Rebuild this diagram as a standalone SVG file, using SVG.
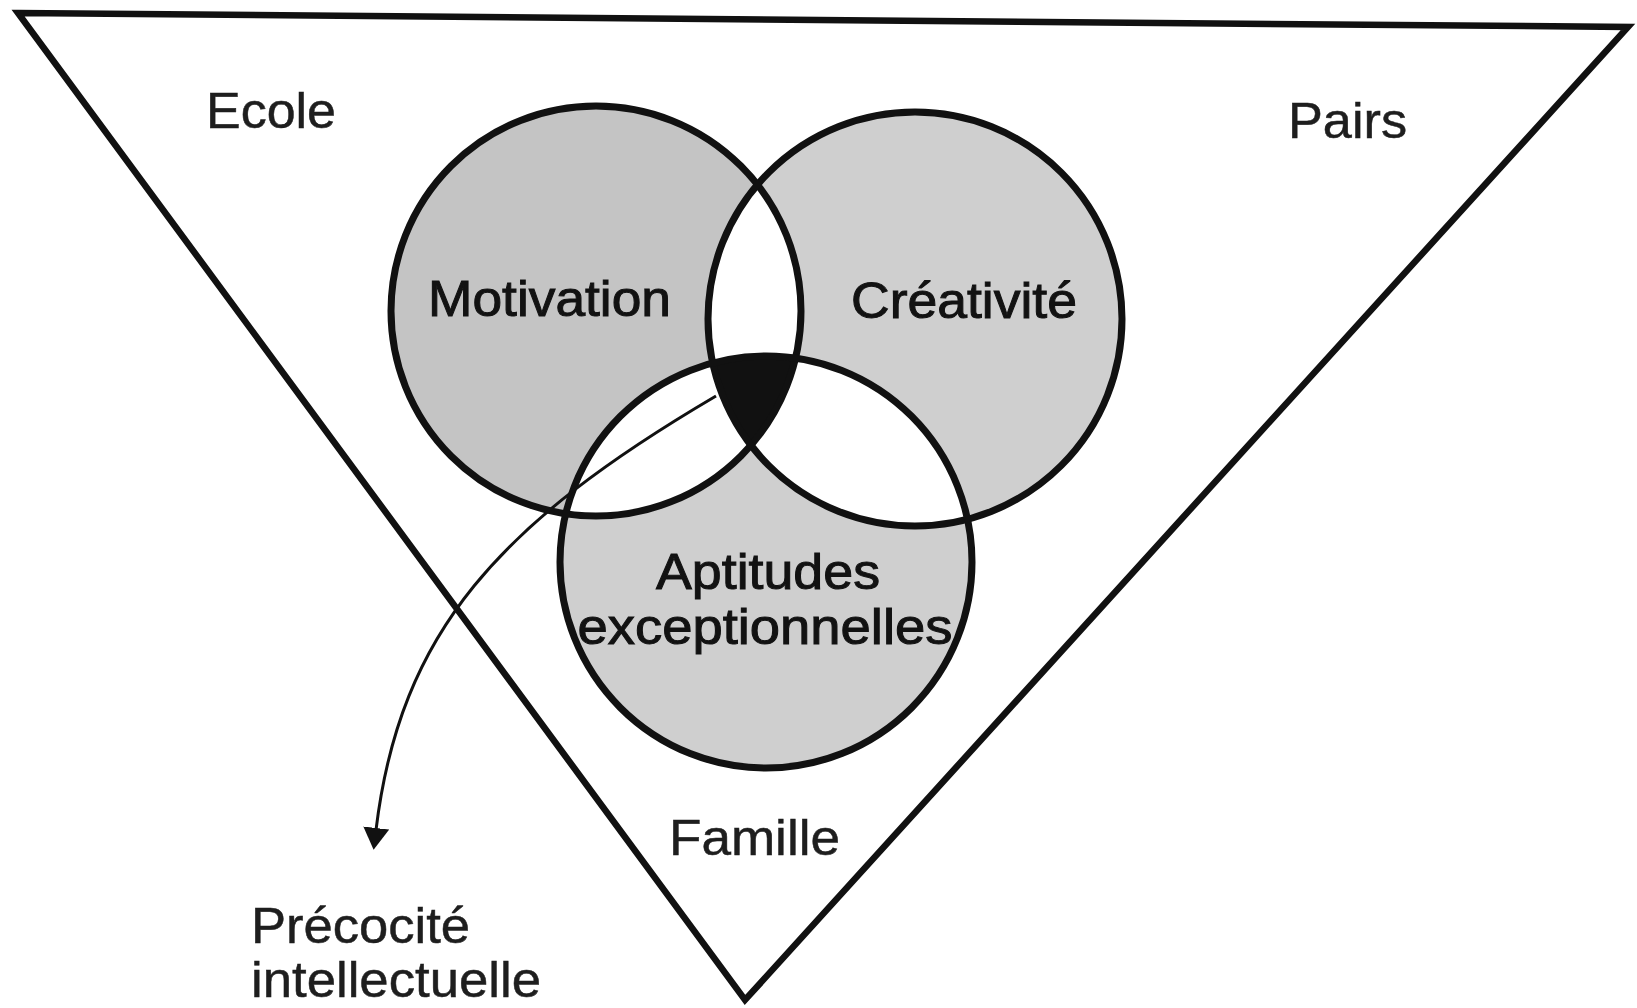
<svg xmlns="http://www.w3.org/2000/svg" width="1637" height="1008" viewBox="0 0 1637 1008">
<style>
.lbl{font-family:"Liberation Sans",Arial,Helvetica,sans-serif;font-size:50px;fill:#1e1e1e;stroke:#1e1e1e;stroke-width:0.5}
.inner{fill:#121212;stroke:#121212;stroke-width:1}
.ring{fill:none;stroke:#111;stroke-width:7}
.frame{fill:none;stroke:#111;stroke-width:6.5;stroke-linejoin:miter}
.conn{fill:none;stroke:#111;stroke-width:3}
</style>
<defs>
<clipPath id="clipM"><circle cx="596" cy="311" r="205"/></clipPath>
<clipPath id="clipC"><circle cx="915" cy="319" r="207"/></clipPath>
<clipPath id="clipA"><circle cx="766" cy="562" r="206"/></clipPath>
<marker id="ah" markerWidth="26" markerHeight="30" refX="2" refY="13" orient="auto" markerUnits="userSpaceOnUse">
<path d="M0,0 L22,13 L0,26 z" fill="#111"/>
</marker>
</defs>
<rect width="1637" height="1008" fill="#fff"/>

<g id="context">
<polygon class="frame" points="18,13 1628,27 745,1000"/>
<text class="lbl" x="206" y="128" textLength="130" lengthAdjust="spacingAndGlyphs">Ecole</text>
<text class="lbl" x="1288" y="138" textLength="119" lengthAdjust="spacingAndGlyphs">Pairs</text>
<text class="lbl" x="669" y="855" textLength="171" lengthAdjust="spacingAndGlyphs">Famille</text>
</g>

<g id="fills">
<circle cx="596" cy="311" r="205" fill="#c4c4c4"/>
<circle cx="915" cy="319" r="207" fill="#cfcfcf"/>
<circle cx="766" cy="562" r="206" fill="#cfcfcf"/>
<g clip-path="url(#clipM)"><circle cx="915" cy="319" r="207" fill="#fff"/><circle cx="766" cy="562" r="206" fill="#fff"/></g>
<g clip-path="url(#clipC)"><circle cx="766" cy="562" r="206" fill="#fff"/></g>
<g clip-path="url(#clipM)"><g clip-path="url(#clipC)"><circle cx="766" cy="562" r="206" fill="#111"/></g></g>
</g>

<g id="motivation">
<circle class="ring" cx="596" cy="311" r="205"/>
<text class="lbl inner" x="428" y="316" textLength="243" lengthAdjust="spacingAndGlyphs">Motivation</text>
</g>
<g id="creativite">
<circle class="ring" cx="915" cy="319" r="207"/>
<text class="lbl inner" x="851" y="318" textLength="226" lengthAdjust="spacingAndGlyphs">Créativité</text>
</g>
<g id="aptitudes">
<circle class="ring" cx="766" cy="562" r="206"/>
<text class="lbl inner" x="768" y="589" text-anchor="middle" textLength="224" lengthAdjust="spacingAndGlyphs">Aptitudes</text>
<text class="lbl inner" x="765" y="644" text-anchor="middle" textLength="375" lengthAdjust="spacingAndGlyphs">exceptionnelles</text>
</g>

<g id="connectors">
<path class="conn" d="M716,396 C500,523 400,631 376,830" marker-end="url(#ah)"/>
</g>

<g id="precocite">
<text class="lbl" x="251" y="943" textLength="219" lengthAdjust="spacingAndGlyphs">Précocité</text>
<text class="lbl" x="251" y="997" textLength="290" lengthAdjust="spacingAndGlyphs">intellectuelle</text>
</g>
</svg>
